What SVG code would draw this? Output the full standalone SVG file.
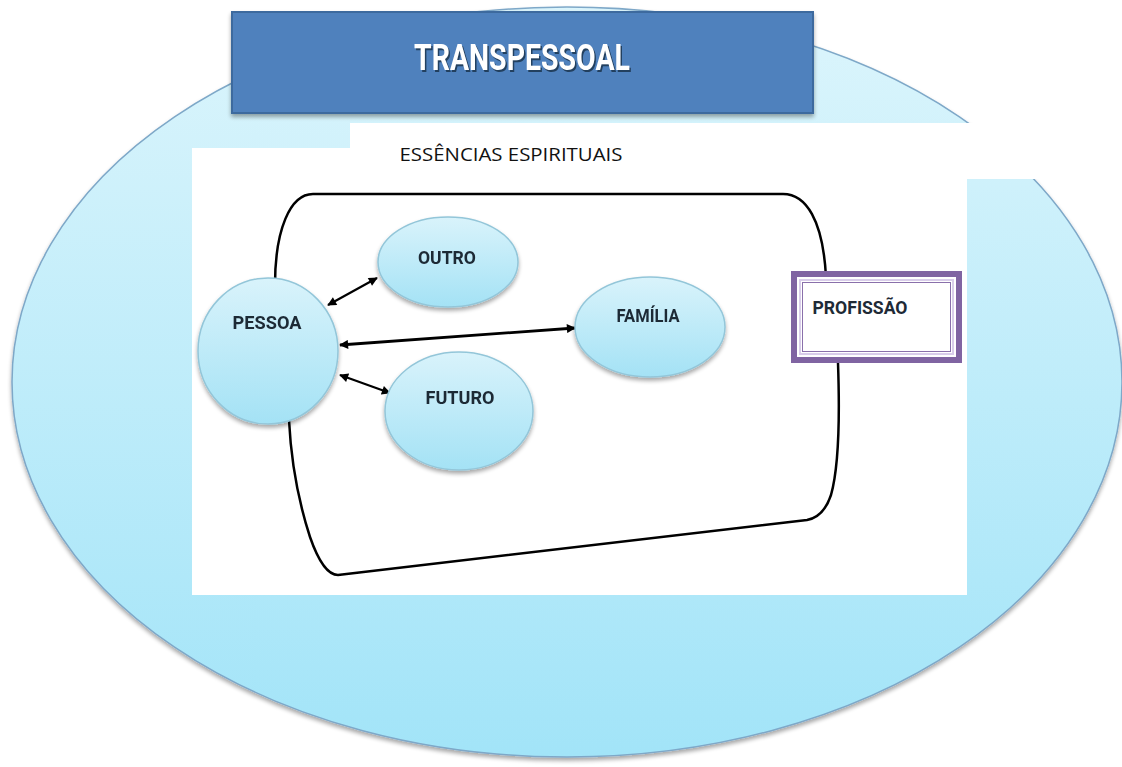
<svg xmlns="http://www.w3.org/2000/svg" width="1122" height="767" viewBox="0 0 1122 767">
  <defs>
    <linearGradient id="gBig" x1="0" y1="0" x2="0" y2="1">
      <stop offset="0" stop-color="#dcf5fc"/>
      <stop offset="1" stop-color="#a2e4f8"/>
    </linearGradient>
    <linearGradient id="gNode" x1="0" y1="0" x2="0" y2="1">
      <stop offset="0" stop-color="#d9f3fb"/>
      <stop offset="1" stop-color="#a4e2f5"/>
    </linearGradient>
    <filter id="sh" x="-10%" y="-10%" width="120%" height="125%">
      <feGaussianBlur in="SourceAlpha" stdDeviation="2"/>
      <feOffset dx="0" dy="3" result="b"/>
      <feComponentTransfer><feFuncA type="linear" slope="0.35"/></feComponentTransfer>
      <feMerge><feMergeNode/><feMergeNode in="SourceGraphic"/></feMerge>
    </filter>
    <marker id="ah" viewBox="0 0 10 10" refX="9" refY="5" markerWidth="10" markerHeight="9" markerUnits="userSpaceOnUse" orient="auto-start-reverse">
      <path d="M0,0 L10,5 L0,10 Z" fill="#000"/>
    </marker>
    <style>
      .node { fill: url(#gNode); stroke: #93c6d9; stroke-width: 1.5; }
      .lbl { font-family: "Liberation Sans Narrow", "Roboto", "Liberation Sans", sans-serif; font-weight: bold; font-size: 18px; fill: #1e2a36; text-anchor: middle; }
      .conn { stroke: #000; stroke-width: 2.2; fill: none; marker-start: url(#ah); marker-end: url(#ah); }
    </style>
  </defs>

  <rect width="1122" height="767" fill="#fff"/>

  <g id="background">
    <ellipse cx="567" cy="382" rx="555" ry="375" fill="url(#gBig)" stroke="#7ea8c8" stroke-width="1.5" filter="url(#sh)"/>
  </g>

  <g id="header" filter="url(#sh)">
    <rect x="232" y="12" width="581" height="101" fill="#4f81bd" stroke="#3d6a9e" stroke-width="2"/>
    <text x="523.5" y="71.5" font-family="Liberation Sans Narrow, Roboto, Liberation Sans, sans-serif" font-weight="bold" font-size="36" fill="#24405f" text-anchor="middle" textLength="216" lengthAdjust="spacingAndGlyphs">TRANSPESSOAL</text>
    <text x="522" y="70" font-family="Liberation Sans Narrow, Roboto, Liberation Sans, sans-serif" font-weight="bold" font-size="36" fill="#ffffff" text-anchor="middle" textLength="216" lengthAdjust="spacingAndGlyphs">TRANSPESSOAL</text>
  </g>

  <g id="panel">
    <rect x="350" y="123" width="695" height="56" fill="#fff"/>
    <rect x="192" y="148" width="775" height="447" fill="#fff"/>
    <text x="511" y="161" font-family="Open Sans, Liberation Sans, sans-serif" font-size="19" fill="#111" text-anchor="middle" textLength="223" lengthAdjust="spacingAndGlyphs">ESSÊNCIAS ESPIRITUAIS</text>
  </g>

  <g id="frame">
    <path d="M 313,194 L 783,194 C 806,194 823,220 826,277 L 838,363 C 840,420 838,470 831,495 C 826,510 818,518 807,520 L 338,575 C 327,575 318,560 310,537 C 298,500 291,460 289,420 L 275,285 C 275,230 290,194 313,194 Z" fill="none" stroke="#000" stroke-width="2.5" stroke-linejoin="round"/>
  </g>

  <g id="connectors">
    <line class="conn" x1="328" y1="305" x2="377" y2="278"/>
    <line class="conn" x1="340" y1="345" x2="575" y2="328" style="stroke-width:2.8"/>
    <line class="conn" x1="340" y1="375" x2="390" y2="393"/>
  </g>

  <g id="pessoa" filter="url(#sh)">
    <ellipse class="node" cx="268" cy="351" rx="70" ry="73"/>
    <text class="lbl" x="267" y="329" textLength="69" lengthAdjust="spacingAndGlyphs">PESSOA</text>
  </g>

  <g id="outro" filter="url(#sh)">
    <ellipse class="node" cx="448" cy="262" rx="70" ry="45"/>
    <text class="lbl" x="447" y="264" textLength="58" lengthAdjust="spacingAndGlyphs">OUTRO</text>
  </g>

  <g id="familia" filter="url(#sh)">
    <ellipse class="node" cx="650" cy="327" rx="75" ry="50"/>
    <text class="lbl" x="648" y="322" textLength="63" lengthAdjust="spacingAndGlyphs">FAMÍLIA</text>
  </g>

  <g id="futuro" filter="url(#sh)">
    <ellipse class="node" cx="459" cy="411" rx="74" ry="59"/>
    <text class="lbl" x="460" y="404" textLength="69" lengthAdjust="spacingAndGlyphs">FUTURO</text>
  </g>

  <g id="profissao">
    <rect x="794" y="274" width="165" height="86" fill="#fff" stroke="#8064a2" stroke-width="6"/>
    <rect x="800" y="280" width="153" height="74" fill="none" stroke="#d9cdea" stroke-width="2"/>
    <rect x="802.5" y="282.5" width="148" height="69" fill="none" stroke="#8a70ab" stroke-width="1"/>
    <text class="lbl" x="860" y="314" textLength="95" lengthAdjust="spacingAndGlyphs">PROFISSÃO</text>
  </g>
</svg>
